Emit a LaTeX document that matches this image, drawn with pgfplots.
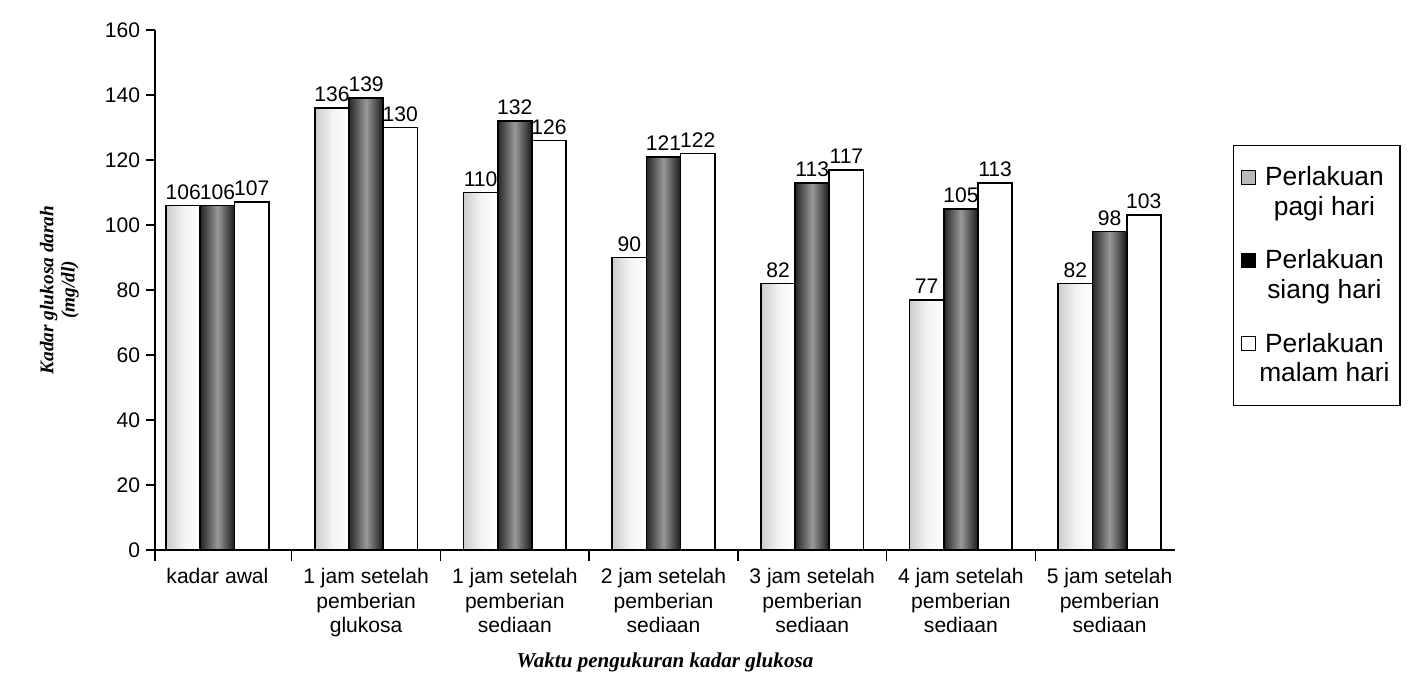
\documentclass[border=0pt]{standalone}
\usepackage{pgfplots}
\pgfplotsset{compat=1.18}
\usepackage{fontspec}
\setmainfont{Liberation Sans}
\newfontfamily\serifit{Liberation Serif}
\pgfplotsset{
  pagi/.style={forget plot, bar shift=-0.23, draw=black, line width=1pt, left color=gray!40, right color=white, middle color=white!95!black},
  siang/.style={forget plot, bar shift=0, draw=black, line width=1pt, left color=black!85, right color=black!90, middle color=black!40},
  malam/.style={forget plot, bar shift=0.23, draw=black, line width=1pt, fill=white},
}
\begin{document}
\begin{tikzpicture}
\begin{axis}[
  at={(0,0)}, anchor=south west,
  scale only axis, width=204mm, height=104mm,
  ymin=0, ymax=160, ytick={0,20,...,160},
  xmin=-0.42, xmax=6.44,
  axis x line*=bottom, axis y line*=left,
  axis line style={line width=0.9pt},
  tick align=outside, major tick length=5pt, minor tick length=6pt,
  xtick={0,...,6},
  xticklabels={kadar awal,
    1 jam setelah\\pemberian\\glukosa,
    1 jam setelah\\pemberian\\sediaan,
    2 jam setelah\\pemberian\\sediaan,
    3 jam setelah\\pemberian\\sediaan,
    4 jam setelah\\pemberian\\sediaan,
    5 jam setelah\\pemberian\\sediaan},
  every major x tick/.append style={draw=none},
  minor xtick={-0.42,0.5,1.5,2.5,3.5,4.5,5.5},
  every minor x tick/.append style={draw=black, line width=0.8pt},
  every major y tick/.append style={draw=black, line width=0.8pt},
  x tick label style={align=center, font=\fontsize{12}{14}\selectfont, yshift=-2pt},
  y tick label style={font=\fontsize{12}{14}\selectfont},
  /pgf/number format/assume math mode=true,
  ybar, bar width=0.23,
  nodes near coords,
  nodes near coords style={font=\fontsize{12}{14}\selectfont, inner sep=3pt},
  xlabel={\serifit\bfseries\itshape Waktu pengukuran kadar glukosa},
  xlabel style={font=\fontsize{12}{14}\selectfont, yshift=-2pt},
  ylabel={\serifit\bfseries\itshape Kadar glukosa darah\\\serifit\bfseries\itshape (mg/dl)},
  ylabel style={align=center, font=\fontsize{11}{12}\selectfont, yshift=8pt},
  legend image code/.code={\draw[#1] (0cm,0.16cm) rectangle (0.28cm,0.44cm);},
  legend style={at={(1.057,0.779)}, anchor=north west, draw=black, line width=0.9pt,
    font=\fontsize{15}{17}\selectfont, cells={align=center, line width=0.6pt},
    row sep=14pt, inner xsep=4pt, inner ysep=10pt},
]
\addlegendimage{fill=gray!55, draw=black}
\addlegendimage{fill=black, draw=black}
\addlegendimage{fill=white, draw=black}
% Perlakuan pagi hari
\addplot[pagi] coordinates {(0,106)};
\addplot[pagi] coordinates {(1,136)};
\addplot[pagi] coordinates {(2,110)};
\addplot[pagi] coordinates {(3,90)};
\addplot[pagi] coordinates {(4,82)};
\addplot[pagi] coordinates {(5,77)};
\addplot[pagi] coordinates {(6,82)};
% Perlakuan siang hari
\addplot[siang] coordinates {(0,106)};
\addplot[siang] coordinates {(1,139)};
\addplot[siang] coordinates {(2,132)};
\addplot[siang] coordinates {(3,121)};
\addplot[siang] coordinates {(4,113)};
\addplot[siang] coordinates {(5,105)};
\addplot[siang] coordinates {(6,98)};
% Perlakuan malam hari
\addplot[malam] coordinates {(0,107) (1,130) (2,126) (3,122) (4,117) (5,113) (6,103)};
\addlegendentry{Perlakuan\\pagi hari}
\addlegendentry{Perlakuan\\siang hari}
\addlegendentry{Perlakuan\\malam hari}
\end{axis}
\path (-31mm,-29.2mm) (253mm,110mm);
\end{tikzpicture}
\end{document}
